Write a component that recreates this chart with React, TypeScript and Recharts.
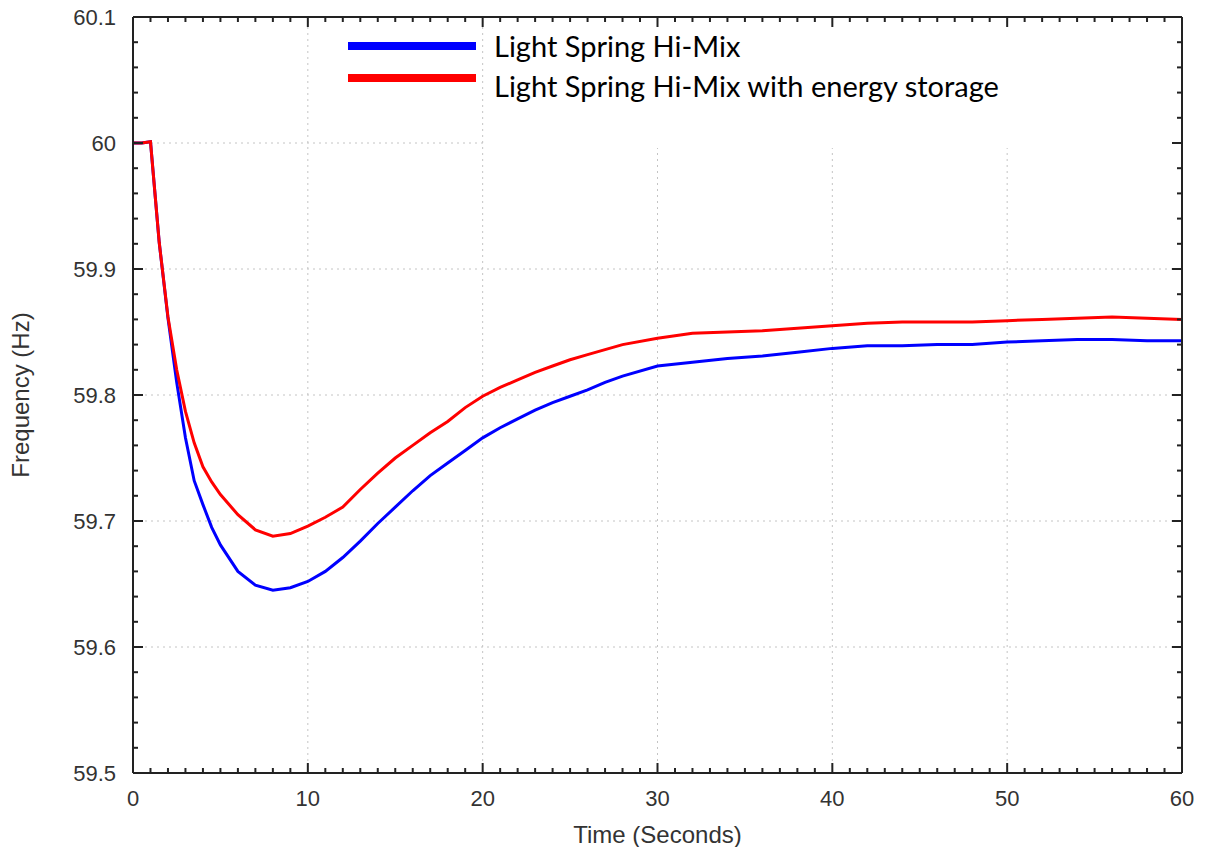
import React from 'react';
import { LineChart, Line, XAxis, YAxis, ReferenceLine, Legend } from 'recharts';

// time in seconds, frequency in Hz
const times = [0, 0.5, 1, 1.5, 2, 2.5, 3, 3.5, 4, 4.5, 5, 6, 7, 8, 9, 10, 11, 12, 13, 14, 15, 16, 17, 18, 19, 20, 21, 22, 23, 24, 25, 26, 27, 28, 30, 32, 34, 36, 38, 40, 42, 44, 46, 48, 50, 52, 54, 56, 58, 60];

const hiMix = [60.0, 60.0, 60.001, 59.921, 59.861, 59.81, 59.766, 59.732, 59.713, 59.695, 59.681, 59.66, 59.649, 59.645, 59.647, 59.652, 59.66, 59.671, 59.684, 59.698, 59.711, 59.724, 59.736, 59.746, 59.756, 59.766, 59.774, 59.781, 59.788, 59.794, 59.799, 59.804, 59.81, 59.815, 59.823, 59.826, 59.829, 59.831, 59.834, 59.837, 59.839, 59.839, 59.84, 59.84, 59.842, 59.843, 59.844, 59.844, 59.843, 59.843];

const hiMixStorage = [60.0, 60.0, 60.001, 59.921, 59.862, 59.82, 59.787, 59.762, 59.743, 59.731, 59.721, 59.705, 59.693, 59.688, 59.69, 59.696, 59.703, 59.711, 59.725, 59.738, 59.75, 59.76, 59.77, 59.779, 59.79, 59.799, 59.806, 59.812, 59.818, 59.823, 59.828, 59.832, 59.836, 59.84, 59.845, 59.849, 59.85, 59.851, 59.853, 59.855, 59.857, 59.858, 59.858, 59.858, 59.859, 59.86, 59.861, 59.862, 59.861, 59.86];

const xTicks = [0, 10, 20, 30, 40, 50, 60];
const yTicks = [59.5, 59.6, 59.7, 59.8, 59.9, 60, 60.1];
const xMinorTicks = Array.from({ length: 61 }, (_, i) => i);
const yMinorTicks = Array.from({ length: 31 }, (_, i) => Math.round((59.5 + i * 0.02) * 100) / 100);

const seriesNames = ['Light Spring Hi-Mix', 'Light Spring Hi-Mix with energy storage'];
const seriesColors = ['#0000ff', '#ff0000'];

const data = times.map((t, i) => ({ t, hiMix: hiMix[i], storage: hiMixStorage[i] }));

const frame = '#222';
const labelColor = '#333';
const gridColor = '#c4c4c4';
const xDomain: [number, number] = [0, 60];
const yDomain: [number, number] = [59.5, 60.1];

// chart box
const CHART_W = 1207;
const CHART_H = 847;
const MARGIN = { top: 17, right: 25, bottom: 0, left: 0 };
const Y_AXIS_W = 133;
const X_AXIS_H = 74;
const plot = {
  left: MARGIN.left + Y_AXIS_W,
  top: MARGIN.top,
  right: CHART_W - MARGIN.right,
  bottom: CHART_H - MARGIN.bottom - X_AXIS_H,
};

const isMajor = (v: number, list: number[]) => list.some((m) => Math.abs(m - v) < 1e-6);
const px = (v: number) => plot.left + ((v - xDomain[0]) / (xDomain[1] - xDomain[0])) * (plot.right - plot.left);
const py = (v: number) => plot.bottom - ((v - yDomain[0]) / (yDomain[1] - yDomain[0])) * (plot.bottom - plot.top);

// gnuplot-style box: top/right border plus inward tick marks on every side
const FrameTicks = () => (
  <svg width={CHART_W} height={CHART_H} style={{ position: 'absolute', left: 0, top: 0, pointerEvents: 'none' }}>
    <g stroke={frame} strokeWidth={2} fill="none">
      <line x1={plot.left} y1={plot.top} x2={plot.right} y2={plot.top} />
      <line x1={plot.right} y1={plot.top} x2={plot.right} y2={plot.bottom} />
      {xMinorTicks.map((v) => {
        const len = isMajor(v, xTicks) ? 10 : 5;
        return (
          <React.Fragment key={`x${v}`}>
            <line x1={px(v)} y1={plot.bottom} x2={px(v)} y2={plot.bottom - len} />
            <line x1={px(v)} y1={plot.top} x2={px(v)} y2={plot.top + len} />
          </React.Fragment>
        );
      })}
      {yMinorTicks.map((v) => {
        const len = isMajor(v, yTicks) ? 10 : 5;
        return (
          <React.Fragment key={`y${v}`}>
            <line x1={plot.left} y1={py(v)} x2={plot.left + len} y2={py(v)} />
            <line x1={plot.right} y1={py(v)} x2={plot.right - len} y2={py(v)} />
          </React.Fragment>
        );
      })}
    </g>
  </svg>
);

const LegendBox = () => (
  <div style={{ position: 'relative', width: CHART_W, height: 150, fontFamily: 'Lato, "Open Sans", sans-serif' }}>
    <div style={{ position: 'absolute', left: 485, top: 26, width: 688, height: 122, background: '#fff' }} />
    {seriesNames.map((name, i) => (
      <React.Fragment key={name}>
        <div style={{ position: 'absolute', left: 348, top: 42 + i * 32, width: 128, height: 8, background: seriesColors[i] }} />
        <div style={{ position: 'absolute', left: 494, top: 31 + i * 40, fontSize: 29, lineHeight: '29px', color: '#000', whiteSpace: 'nowrap' }}>
          {name}
        </div>
      </React.Fragment>
    ))}
  </div>
);

export default function App() {
  return (
    <div style={{ position: 'absolute', left: 0, top: 0, width: CHART_W, height: CHART_H, background: '#fff' }}>
      <LineChart
        width={CHART_W}
        height={CHART_H}
        data={data}
        margin={MARGIN}
        style={{ fontFamily: '"Liberation Sans", Arial, sans-serif' }}
      >
        {/* dotted grid at the labelled values */}
        {xTicks.slice(1, -1).map((v) => (
          <ReferenceLine key={`gx${v}`} x={v} stroke={gridColor} strokeDasharray="2 4" />
        ))}
        {yTicks.slice(1, -1).map((v) => (
          <ReferenceLine key={`gy${v}`} y={v} stroke={gridColor} strokeDasharray="2 4" />
        ))}

        <Line dataKey="hiMix" type="linear" stroke={seriesColors[0]} strokeWidth={3} dot={false} isAnimationActive={false} />
        <Line dataKey="storage" type="linear" stroke={seriesColors[1]} strokeWidth={3} dot={false} isAnimationActive={false} />

        <XAxis
          dataKey="t"
          type="number"
          domain={xDomain}
          ticks={xTicks}
          interval={0}
          height={X_AXIS_H}
          tickLine={false}
          tickSize={0}
          tickMargin={17}
          axisLine={{ stroke: frame, strokeWidth: 2 }}
          tick={{ fill: labelColor, fontSize: 22 }}
          label={{ value: 'Time (Seconds)', position: 'center', dy: 24, fill: labelColor, fontSize: 24 }}
        />
        <YAxis
          type="number"
          domain={yDomain}
          ticks={yTicks}
          interval={0}
          width={Y_AXIS_W}
          tickLine={false}
          tickSize={0}
          tickMargin={17}
          axisLine={{ stroke: frame, strokeWidth: 2 }}
          tick={{ fill: labelColor, fontSize: 22 }}
          label={{ value: 'Frequency (Hz)', angle: -90, position: 'center', dx: -46, fill: labelColor, fontSize: 24 }}
        />

        <Legend
          layout="horizontal"
          verticalAlign="middle"
          align="center"
          content={LegendBox}
          wrapperStyle={{ left: 0, top: 0, width: CHART_W, height: 150 }}
        />
      </LineChart>
      <FrameTicks />
    </div>
  );
}
